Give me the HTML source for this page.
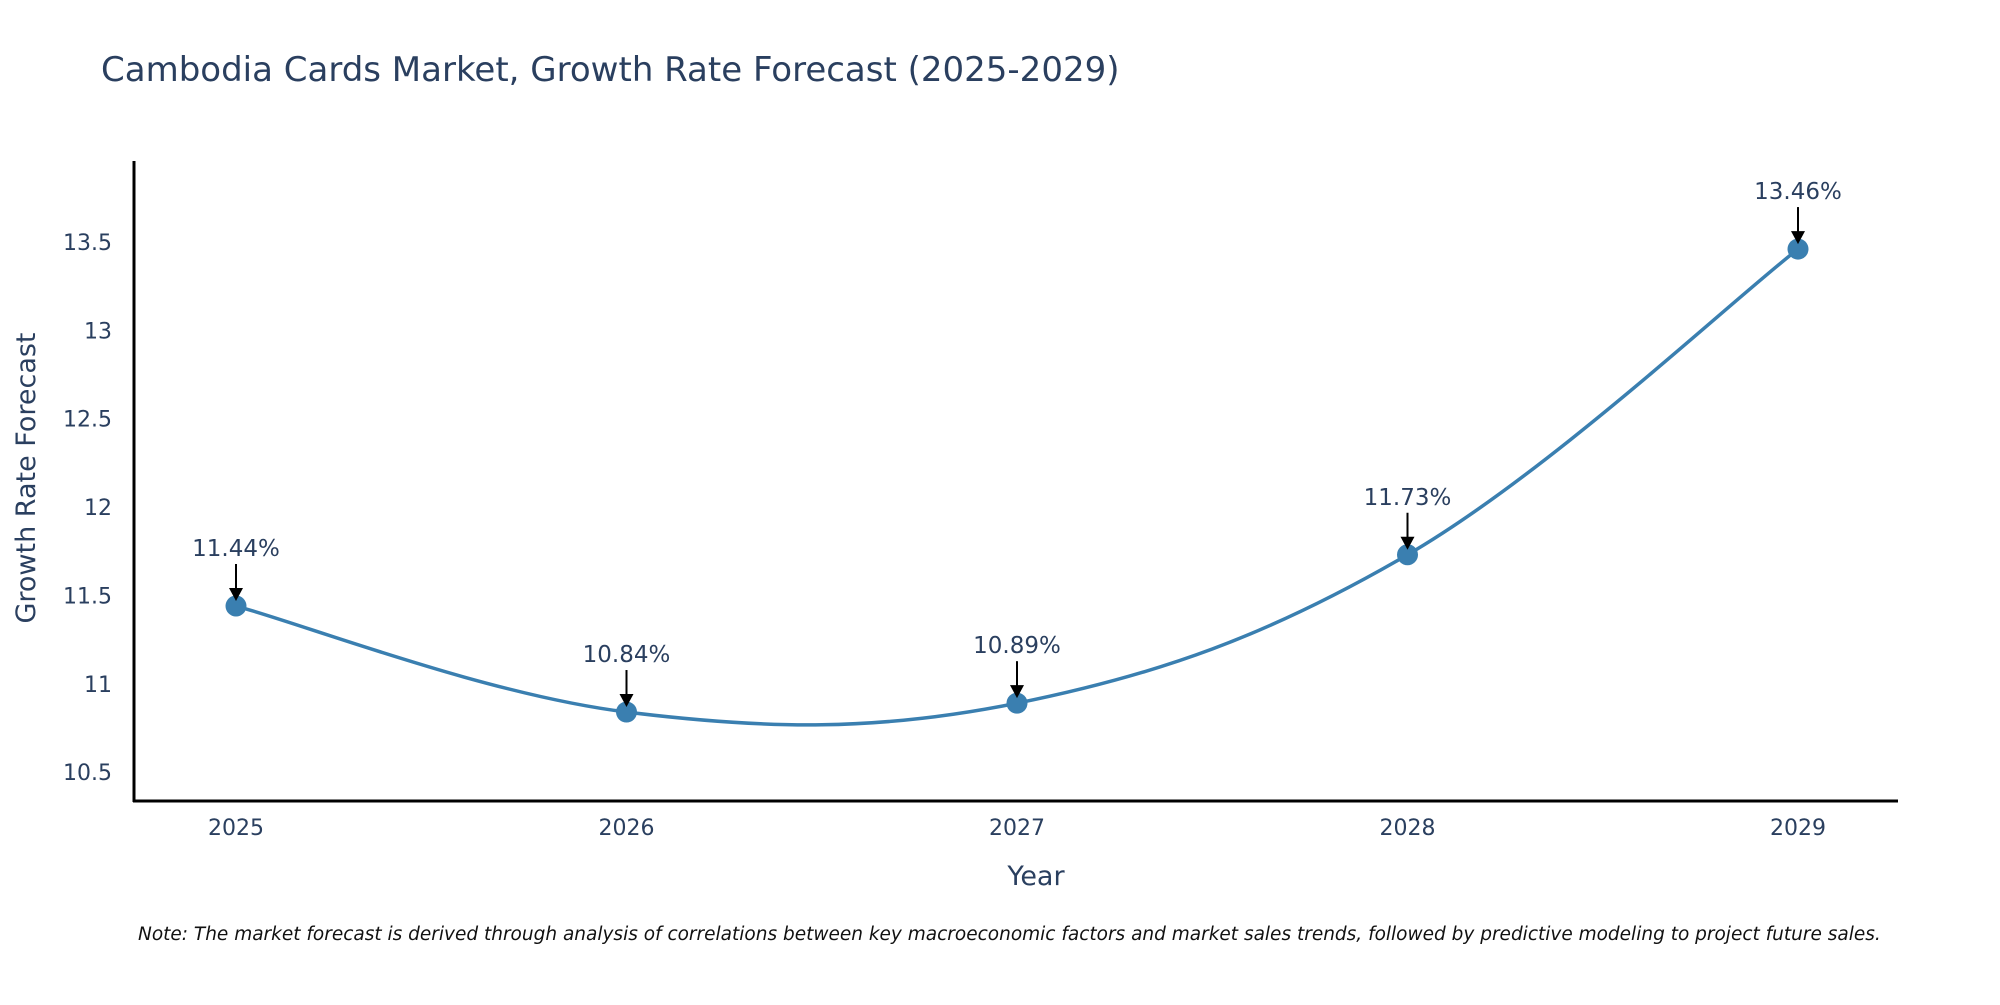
<!DOCTYPE html>
<html><head><meta charset="utf-8"><style>
body{margin:0;background:#fff;}
svg text{font-family:"DejaVu Sans","Liberation Sans",sans-serif;fill:#2a3f5f;}
</style></head><body>
<svg id="chart" width="2000" height="1000" xmlns="http://www.w3.org/2000/svg">
<text x="101" y="81" font-size="34">Cambodia Cards Market, Growth Rate Forecast (2025-2029)</text>
<line x1="134" y1="161" x2="134" y2="802" stroke="#000" stroke-width="3"/>
<line x1="133" y1="801" x2="1898" y2="801" stroke="#000" stroke-width="3"/>
<g id="yticks"></g><g id="xticks"></g>
<path id="line" fill="none" stroke="#3a7fb0" stroke-width="3.5"/>
<g id="points"></g><g id="annots"></g>
<text transform="translate(35,478) rotate(-90)" text-anchor="middle" font-size="27">Growth Rate Forecast</text>
<text x="1036" y="885" text-anchor="middle" font-size="27">Year</text>
<text x="138" y="940" font-size="18.5" font-style="italic" style="fill:#111">Note: The market forecast is derived through analysis of correlations between key macroeconomic factors and market sales trends, followed by predictive modeling to project future sales.</text>
</svg>
<script>
const years=[2025,2026,2027,2028,2029];
const values=[11.44,10.84,10.89,11.73,13.46];
const labels=["11.44%","10.84%","10.89%","11.73%","13.46%"];
const yTicks=[10.5,11,11.5,12,12.5,13,13.5];
const yTickLabels=["10.5","11","11.5","12","12.5","13","13.5"];
const NS="http://www.w3.org/2000/svg";
const xs=y=>236+(y-2025)*390.5;
const ys=v=>242+(13.5-v)*176.7;
function mk(t,a,p){const e=document.createElementNS(NS,t);for(const k in a)e.setAttribute(k,a[k]);p.appendChild(e);return e;}
const yt=document.getElementById('yticks');
yTicks.forEach((v,i)=>{const t=mk('text',{x:112,y:ys(v)+8,'text-anchor':'end','font-size':22},yt);t.textContent=yTickLabels[i];

});
const xt=document.getElementById('xticks');
years.forEach(y=>{const t=mk('text',{x:xs(y),y:835,'text-anchor':'middle','font-size':22},xt);t.textContent=String(y);

});
const P=years.map((y,i)=>[xs(y),ys(values[i])]);
let d=`M${P[0][0]},${P[0][1]}`;const s=0.18;
for(let i=0;i<P.length-1;i++){const p0=P[Math.max(0,i-1)],p1=P[i],p2=P[i+1],p3=P[Math.min(P.length-1,i+2)];
d+=` C${p1[0]+(p2[0]-p0[0])*s},${p1[1]+(p2[1]-p0[1])*s} ${p2[0]-(p3[0]-p1[0])*s},${p2[1]-(p3[1]-p1[1])*s} ${p2[0]},${p2[1]}`;}
document.getElementById('line').setAttribute('d',d);
const pts=document.getElementById('points'),an=document.getElementById('annots');
P.forEach((p,i)=>{const c=mk('circle',{cx:p[0],cy:p[1],r:10.5,fill:'#3a7fb0'},pts);


const g=mk('g',{},an);


mk('line',{x1:p[0],y1:p[1]-42,x2:p[0],y2:p[1]-16,stroke:'#000','stroke-width':2},g);
mk('polygon',{points:`${p[0]-7},${p[1]-18} ${p[0]+7},${p[1]-18} ${p[0]},${p[1]-5}`,fill:'#000'},g);
const t=mk('text',{x:p[0],y:p[1]-50,'text-anchor':'middle','font-size':23},g);t.textContent=labels[i];});
</script>
</body></html>
